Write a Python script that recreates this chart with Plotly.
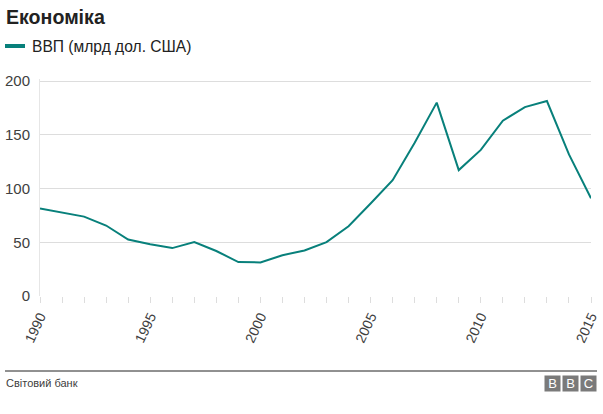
import plotly.graph_objects as go

years = list(range(1990, 2016))
gdp = [81.5, 77.5, 73.9, 65.6, 52.5, 48.2, 44.6, 50.2, 41.9, 31.6, 31.3, 38.0, 42.4, 50.1,
       64.9, 86.1, 107.8, 142.7, 180.0, 117.2, 136.0, 163.2, 175.8, 181.5, 131.8, 91.0]
y_ticks = [0, 50, 100, 150, 200]
x_ticks = [1990, 1995, 2000, 2005, 2010, 2015]

title = "Економіка"
series_name = "ВВП (млрд дол. США)"
source = "Світовий банк"

W, H = 603, 414
L, R, T, B = 40, 12, 79, 118
pw, ph = W - L - R, H - T - B

def px(x):
    return (x - L) / pw

def py(y):
    return (H - B - y) / ph

FONT = "Liberation Sans, Arial, sans-serif"
TEAL = "#08807b"

fig = go.Figure()
fig.add_trace(go.Scatter(x=years, y=gdp, mode="lines", name=series_name,
                         line=dict(color=TEAL, width=2), showlegend=False, cliponaxis=False,
                         hoverinfo="skip"))

fig.update_layout(
    width=W, height=H, margin=dict(l=L, r=R, t=T, b=B, autoexpand=False),
    paper_bgcolor="white", plot_bgcolor="white",
    font=dict(family=FONT, color="#404040"),
    xaxis=dict(range=[1990, 2015], tickvals=x_ticks, ticktext=[str(v) for v in x_ticks],
               tickangle=-65, tickfont=dict(size=14, color="#404040"), automargin=False,
               showgrid=False, zeroline=False, showline=False,
               ticks="outside", ticklen=6, tickcolor="#dddddd",
               minor=dict(dtick=1, tick0=1990, ticks="outside", ticklen=6, tickcolor="#dddddd", showgrid=False)),
    yaxis=dict(range=[0, 202], tickvals=y_ticks, tickfont=dict(size=15, color="#404040"), automargin=False,
               showgrid=True, gridcolor="#dddddd", gridwidth=1, zeroline=False,
               showline=True, linecolor="#e6e6e6", linewidth=1,
               ticks="outside", ticklen=6, tickcolor="white"),
)

shapes = [
    dict(type="line", xref="paper", yref="paper", x0=px(5), x1=px(25), y0=py(46), y1=py(46),
         line=dict(color=TEAL, width=4)),
    dict(type="line", xref="paper", yref="paper", x0=px(5), x1=px(597), y0=py(371), y1=py(371),
         line=dict(color="#222222", width=1)),
]
fig.update_layout(shapes=shapes)

ann = [
    dict(text="<b>" + title + "</b>", x=px(4), y=py(17), xanchor="left", yanchor="middle",
         font=dict(size=19.6, color="#222222")),
    dict(text=series_name, x=px(30), y=py(46), xanchor="left", yanchor="middle",
         font=dict(size=15.6, color="#222222")),
    dict(text=source, x=px(4), y=py(383), xanchor="left", yanchor="middle",
         font=dict(size=11, color="#404040")),
]
for i, ch in enumerate("BBC"):
    cx = 552.5 + i * 18
    ann.append(dict(text=ch, x=px(cx), y=py(383.5), xanchor="center", yanchor="middle",
                    width=13, height=13, bgcolor="#7a7a7a", borderpad=1,
                    font=dict(size=13, color="white")))
for a in ann:
    a.update(xref="paper", yref="paper", showarrow=False)
fig.update_layout(annotations=ann)

fig.write_html("out.html", config={"displayModeBar": False},
               post_script="document.body.style.margin='0';document.body.style.overflow='hidden';")
